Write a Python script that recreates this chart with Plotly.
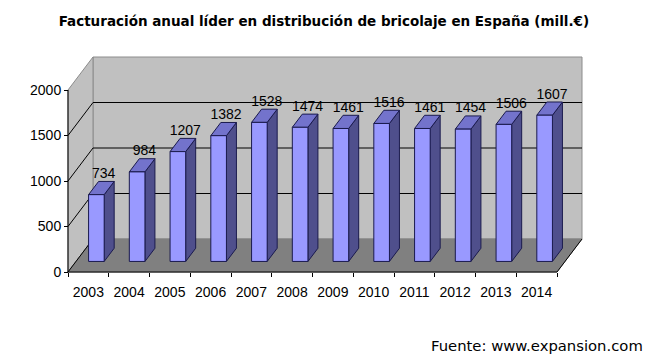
import plotly.graph_objects as go

# ---- data ----
years = ["2003", "2004", "2005", "2006", "2007", "2008", "2009", "2010", "2011", "2012", "2013", "2014"]
values = [734, 984, 1207, 1382, 1528, 1474, 1461, 1516, 1461, 1454, 1506, 1607]
y_ticks = [0, 500, 1000, 1500, 2000]
title_text = "Facturación anual líder en distribución de bricolaje en España (mill.€)"
source_text = "Fuente: www.expansion.com"

# ---- oblique projection constants (styling) ----
DX = 0.6135      # depth offset along x (category units)
DY = 362.6       # depth offset along y (value units)
YMAX = 2000
N = len(years)
XL, XR = -0.5, N - 0.5
BAR_W = 0.383
D0, DD = 0.32, 0.40

WALL = "#C0C0C0"
WALL_EDGE = "#8C8C8C"
FLOOR = "#808080"
FRONT = "#9999FF"
SIDE = "#4F4F8C"
TOP = "#7373CC"
EDGE = "#1A1A4D"

fig = go.Figure()

def poly(xs, ys, fill, line_color, width=1):
    fig.add_trace(go.Scatter(x=xs, y=ys, mode="lines", fill="toself", fillcolor=fill,
                             line=dict(color=line_color, width=width), hoverinfo="skip"))

def line(xs, ys, color, width=1):
    fig.add_trace(go.Scatter(x=xs, y=ys, mode="lines", line=dict(color=color, width=width),
                             hoverinfo="skip"))

# back wall
poly([XL + DX, XR + DX, XR + DX, XL + DX, XL + DX],
     [DY, DY, YMAX + DY, YMAX + DY, DY], WALL, WALL_EDGE)
# left wall
poly([XL, XL + DX, XL + DX, XL, XL],
     [0, DY, YMAX + DY, YMAX, 0], WALL, WALL_EDGE)
# floor
poly([XL, XR, XR + DX, XL + DX, XL],
     [0, 0, DY, DY, 0], FLOOR, FLOOR)
# floor black edges
line([XL + DX, XL, XR, XR + DX], [DY, 0, 0, DY], "black")
# gridlines
for t in y_ticks[1:-1]:
    line([XL, XL + DX, XR + DX], [t, t + DY, t + DY], "black")
# y axis line
line([XL, XL], [0, YMAX], "black")

# bars
fx, fy, sx, sy, tx, ty = [], [], [], [], [], []
lx, ly = [], []
for i, v in enumerate(values):
    x0 = i - BAR_W / 2 + D0 * DX
    x1 = i + BAR_W / 2 + D0 * DX
    b = D0 * DY
    t = v + D0 * DY
    ddx, ddy = DD * DX, DD * DY
    fx += [x0, x1, x1, x0, x0, None]
    fy += [b, b, t, t, b, None]
    sx += [x1, x1 + ddx, x1 + ddx, x1, x1, None]
    sy += [b, b + ddy, t + ddy, t, b, None]
    tx += [x0, x1, x1 + ddx, x0 + ddx, x0, None]
    ty += [t, t, t + ddy, t + ddy, t, None]
    lx.append(i + D0 * DX + BAR_W / 2 * 0.3 + ddx / 2)
    ly.append(t + ddy)

for xs, ys, c in [(sx, sy, SIDE), (tx, ty, TOP), (fx, fy, FRONT)]:
    fig.add_trace(go.Scatter(x=xs, y=ys, mode="lines", fill="toself", fillcolor=c,
                             line=dict(color=EDGE, width=1), hoverinfo="skip"))

fig.add_trace(go.Scatter(x=lx, y=ly, mode="text", text=[str(v) for v in values],
                         textposition="top center",
                         textfont=dict(family="Liberation Sans, Arial", size=14, color="black"),
                         hoverinfo="skip", cliponaxis=False))

W, H = 653, 361
fig.update_layout(
    width=W, height=H, autosize=False,
    margin=dict(l=0, r=0, t=0, b=0, pad=0),
    paper_bgcolor="white", plot_bgcolor="white",
    showlegend=False,
    title=dict(text=title_text, x=0.496, xanchor="center", y=1 - 21 / H, yanchor="middle",
               yref="container",
               font=dict(family="DejaVu Sans", size=13.5, color="black", weight="bold")),
    xaxis=dict(range=[-2.1687, 13.8558], showgrid=False, zeroline=False, showline=False,
               tickvals=list(range(N)), ticktext=years, ticks="",
               minor=dict(tickvals=[i - 0.5 for i in range(N + 1)], ticks="outside",
                          ticklen=4, tickcolor="black", showgrid=False),
               anchor="free", position=(H - 272) / H, ticklabelstandoff=10,
               tickfont=dict(family="Liberation Sans, Arial", size=14, color="black")),
    yaxis=dict(range=[-978.02, 2989.0], showgrid=False, zeroline=False, showline=False,
               tickvals=y_ticks, ticks="outside", ticklen=4, tickcolor="black",
               anchor="free", position=68 / W,
               tickfont=dict(family="Liberation Sans, Arial", size=14, color="black")),
    annotations=[dict(text=source_text, xref="paper", yref="paper", x=645 / W, y=1 - 345 / H,
                      xanchor="right", yanchor="middle", showarrow=False,
                      font=dict(family="DejaVu Sans", size=14.8, color="black"))],
)

fig.write_html("out.html", config={"displayModeBar": False, "staticPlot": True},
               post_script="document.body.style.margin='0';")
